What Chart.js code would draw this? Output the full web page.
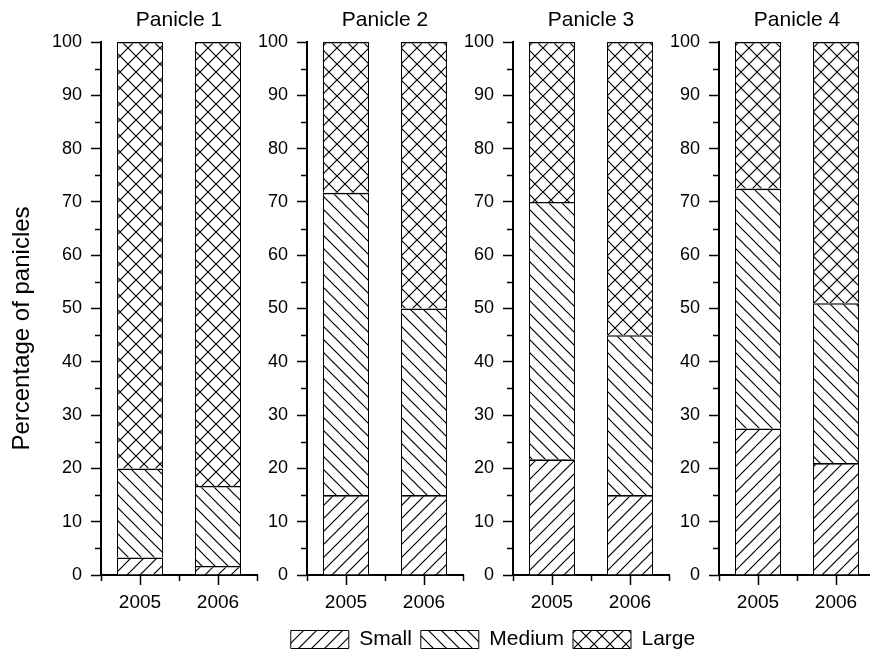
<!DOCTYPE html>
<html><head><meta charset="utf-8">
<script src="https://cdn.jsdelivr.net/npm/chart.js@4.4.1/dist/chart.umd.min.js"></script>
<style>
html,body{margin:0;padding:0;background:#fff;}
#wrap{position:relative;width:870px;height:653px;overflow:hidden;background:#fff;}
#wrap canvas{position:absolute;}
</style></head><body><div id="wrap"></div>
<script>
// ---- data ----
const categories = ['2005', '2006'];
const panelTitles = ['Panicle 1', 'Panicle 2', 'Panicle 3', 'Panicle 4'];
const seriesNames = ['Small', 'Medium', 'Large'];
const smallValues  = [[3.3, 1.7], [15, 15], [21.7, 15], [27.5, 21]];
const mediumValues = [[16.7, 15], [56.7, 35], [48.3, 30], [45, 30]];
const largeValues  = [[80, 83.3], [28.3, 50], [30, 55], [27.5, 49]];
const yMinorTicks = [5, 15, 25, 35, 45, 55, 65, 75, 85, 95];
const yAxisTitle = 'Percentage of panicles';

// ---- layout ----
const axisX = [101, 307, 513, 719];
const leftW = [101, 50, 50, 50];
const plotW = 156;
const panelH = 622;
const xAxisH = 47;

Chart.defaults.font.family = "'Liberation Sans', Arial, sans-serif";
Chart.defaults.color = '#000';

function makePattern(size, dirs) {
  const c = document.createElement('canvas');
  c.width = size; c.height = size;
  const g = c.getContext('2d');
  g.fillStyle = '#fff'; g.fillRect(0, 0, size, size);
  g.strokeStyle = '#000'; g.lineWidth = 1.2;
  g.beginPath();
  if (dirs.indexOf('/') >= 0) {
    g.moveTo(-1, size + 1); g.lineTo(size + 1, -1);
    g.moveTo(-1, 1); g.lineTo(1, -1);
    g.moveTo(size - 1, size + 1); g.lineTo(size + 1, size - 1);
  }
  if (dirs.indexOf('\\') >= 0) {
    g.moveTo(-1, -1); g.lineTo(size + 1, size + 1);
    g.moveTo(size - 1, -1); g.lineTo(size + 1, 1);
    g.moveTo(-1, size - 1); g.lineTo(1, size + 1);
  }
  g.stroke();
  return g.createPattern(c, 'repeat');
}
const patterns = [makePattern(13, '/'), makePattern(13, '\\'), makePattern(16, '/\\')];

const minorTickPlugin = {
  id: 'minorTicks',
  afterDraw(chart) {
    const x = chart.scales.x, y = chart.scales.y;
    if (!x || !y || !x.options.display) return;
    const ctx = chart.ctx;
    ctx.save();
    ctx.strokeStyle = '#000'; ctx.lineWidth = 1.5;
    ctx.beginPath();
    const ax = Math.round(y.right);
    yMinorTicks.forEach(v => {
      const py = Math.round(y.getPixelForValue(v)) + 0.5;
      ctx.moveTo(ax - 6, py); ctx.lineTo(ax, py);
    });
    const p0 = x.getPixelForValue(0), p1 = x.getPixelForValue(1);
    const half = (p1 - p0) / 2;
    [p0 - half, p0 + half, p1 + half].forEach(px => {
      const qx = Math.round(px) + 0.5;
      ctx.moveTo(qx, x.top); ctx.lineTo(qx, x.top + 6);
    });
    ctx.stroke();
    ctx.restore();
  }
};

const wrap = document.getElementById('wrap');
const valueSets = [smallValues, mediumValues, largeValues];

panelTitles.forEach((title, i) => {
  const cv = document.createElement('canvas');
  const w = leftW[i] + plotW + 4;
  cv.width = w; cv.height = panelH;
  cv.style.left = (axisX[i] - leftW[i]) + 'px';
  cv.style.top = '0px';
  cv.style.width = w + 'px'; cv.style.height = panelH + 'px';
  wrap.appendChild(cv);
  new Chart(cv, {
    type: 'bar',
    data: {
      labels: categories,
      datasets: seriesNames.map((name, k) => ({
        label: name,
        data: valueSets[k][i],
        backgroundColor: patterns[k],
        borderColor: '#000',
        borderWidth: { left: 1, right: 1, top: 1.6, bottom: 0 },
        borderSkipped: false,
        inflateAmount: 0,
        barPercentage: 46 / 78,
        categoryPercentage: 1
      }))
    },
    options: {
      responsive: false,
      animation: false,
      devicePixelRatio: 1,
      layout: { padding: { left: 0, right: 4, top: 0, bottom: 0 } },
      plugins: {
        legend: { display: false },
        tooltip: { enabled: false },
        title: {
          display: true, text: title,
          fullSize: false,
          font: { size: 21, weight: 'normal' },
          color: '#000',
          padding: { top: 8, bottom: 8.8 }
        }
      },
      scales: {
        x: {
          stacked: true,
          offset: true,
          grid: { display: true, drawOnChartArea: false, drawTicks: true, tickLength: 10, tickWidth: 1.5, color: '#000', offset: false },
          border: { display: true, color: '#000', width: 2 },
          ticks: { font: { size: 19 }, color: '#000', padding: 6, maxRotation: 0 },
          afterFit(s) { s.height = xAxisH; }
        },
        y: {
          stacked: true,
          min: 0, max: 100,
          ticks: { stepSize: 10, font: { size: 18 }, color: '#000', padding: 9 },
          grid: { display: true, drawOnChartArea: false, drawTicks: true, tickLength: 10, tickWidth: 1.5, color: '#000' },
          border: { display: true, color: '#000', width: 2 },
          title: {
            display: i === 0,
            text: yAxisTitle + '      ',
            font: { size: 24 },
            color: '#000',
            padding: { top: 8, bottom: 0 }
          },
          afterFit(s) { s.width = leftW[i]; }
        }
      }
    },
    plugins: [minorTickPlugin]
  });
});

// legend chart
const lc = document.createElement('canvas');
lc.width = 774; lc.height = 90;
lc.style.left = '106px'; lc.style.top = '620px';
lc.style.width = '774px'; lc.style.height = '90px';
wrap.appendChild(lc);
new Chart(lc, {
  type: 'bar',
  data: {
    labels: [],
    datasets: seriesNames.map((name, k) => ({
      label: name, data: [],
      backgroundColor: patterns[k], borderColor: '#000', borderWidth: 1
    }))
  },
  options: {
    responsive: false, animation: false, devicePixelRatio: 1,
    layout: { padding: 0 },
    scales: { x: { display: false }, y: { display: false } },
    plugins: {
      tooltip: { enabled: false },
      legend: {
        display: true, position: 'top',
        labels: { boxWidth: 58, boxHeight: 18, padding: 9, font: { size: 21 }, color: '#000' }
      }
    }
  }
});
</script></body></html>
